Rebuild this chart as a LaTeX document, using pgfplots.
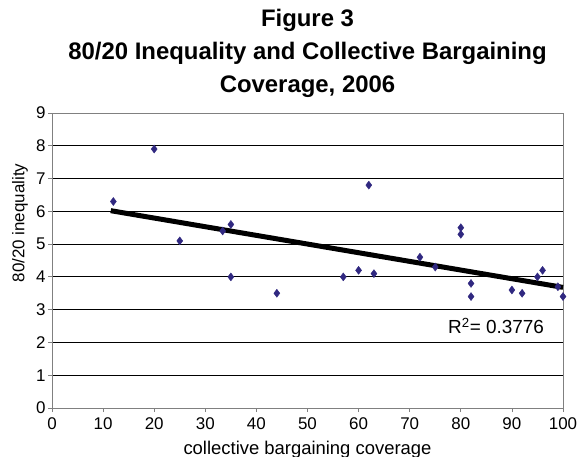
\documentclass[border=0pt]{standalone}
\usepackage{pgfplots}
\pgfplotsset{compat=1.18}
\usepackage{fontspec}
\setmainfont{Liberation Sans}
\definecolor{mk}{RGB}{48,40,128}
\definecolor{ax}{RGB}{128,128,128}
\begin{document}
\begin{tikzpicture}
\path[use as bounding box] (-52bp,-49bp) rectangle (532bp,408bp);
\begin{axis}[
  at={(0,0)}, anchor=south west,
  scale only axis, width=511bp, height=295bp,
  xmin=0, xmax=100, ymin=0, ymax=9,
  xtick={0,10,...,100}, ytick={0,1,...,9},
  axis line style={draw=none},
  tick style={ax, line width=0.8bp},
  tick align=outside, major tick length=4bp,
  xtick pos=bottom, ytick pos=left,
  ticklabel style={font=\fontsize{17}{17}\selectfont},
  xticklabel style={yshift=-2bp},
  yticklabel style={xshift=1bp},
  /pgf/number format/assume math mode=true,
  clip=false,
]
\pgfplotsinvokeforeach{1,...,8}{\draw[black, line width=0.8bp] (axis cs:0,#1) -- (axis cs:100,#1);}
\draw[ax, line width=1bp] (axis cs:0,0) rectangle (axis cs:100,9);
\addplot[only marks, mark=diamond*, mark size=4bp, mk, mark options={draw=mk, fill=mk}] coordinates {
(12,6.3) (20,7.9) (25,5.1) (33.4,5.4) (35,5.6) (35,4.0) (44,3.5)
(57,4.0) (60,4.2) (62,6.8) (63,4.1) (72,4.6) (75,4.3) (80,5.5) (80,5.3)
(82,3.8) (82,3.4) (90,3.6) (92,3.5) (95,4.0) (96,4.2) (99,3.7) (100,3.4)
};
\addplot[black, line width=5bp] coordinates {(11.5,6.02) (100,3.68)};
\node[anchor=base west, font=\fontsize{19}{19}\selectfont, inner sep=0pt] at (axis cs:77.5,2.26) {R\textsuperscript{2}= 0.3776};
\end{axis}
\node[anchor=base, font=\bfseries\fontsize{24}{24}\selectfont, inner sep=0pt] at (255.5bp,381bp) {Figure 3};
\node[anchor=base, font=\bfseries\fontsize{24}{24}\selectfont, inner sep=0pt] at (255.5bp,348bp) {80/20 Inequality and Collective Bargaining};
\node[anchor=base, font=\bfseries\fontsize{24}{24}\selectfont, inner sep=0pt] at (255.5bp,315bp) {Coverage, 2006};
\node[anchor=base, font=\fontsize{18.5}{18.5}\selectfont, inner sep=0pt] at (255.5bp,-46.5bp) {collective bargaining coverage};
\node[rotate=90, anchor=center, font=\fontsize{17}{17}\selectfont, inner sep=0pt] at (-32bp,185bp) {80/20 inequality};
\end{tikzpicture}
\end{document}
